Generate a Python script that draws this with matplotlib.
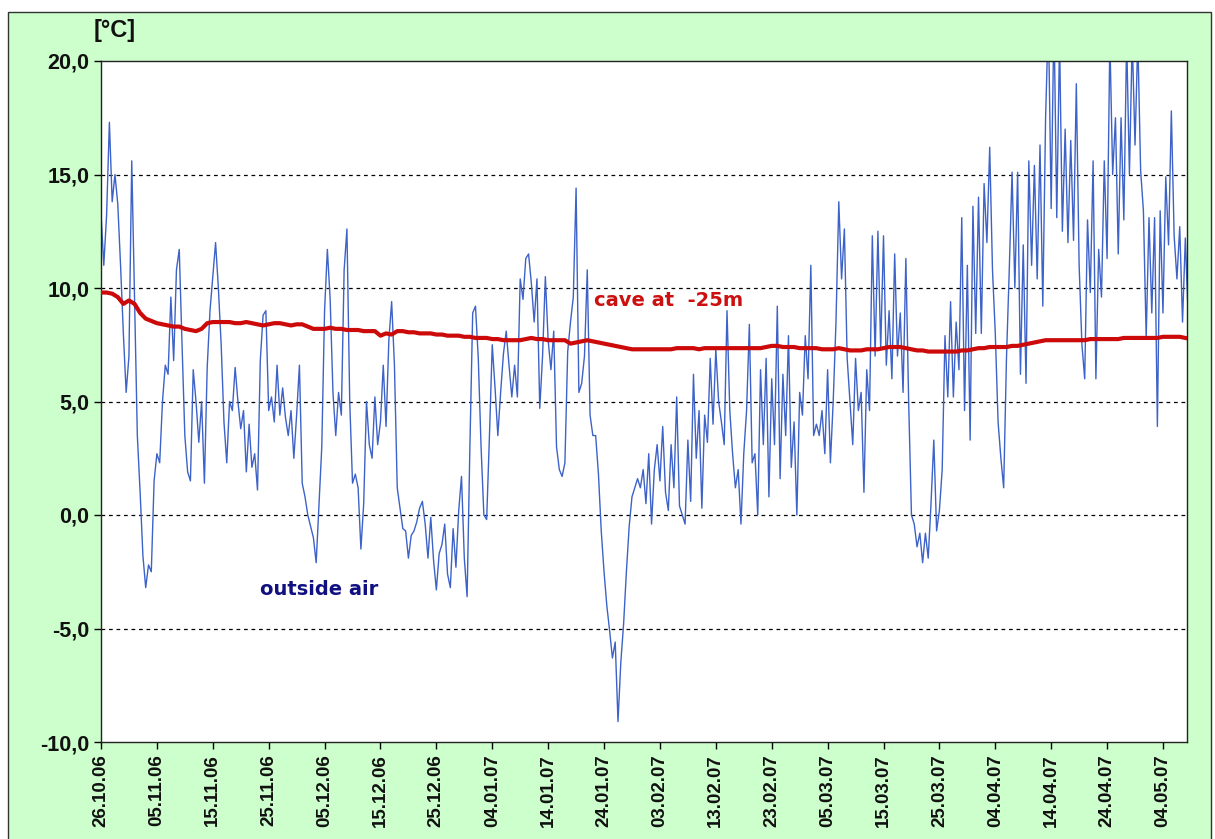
import numpy as np
import matplotlib
matplotlib.use('Agg')
import matplotlib.pyplot as plt
import matplotlib.dates as mdates
from matplotlib.patches import Rectangle
from datetime import datetime, timedelta

plt.rcParams['font.family'] = ['Liberation Sans', 'DejaVu Sans']

# start of the record, outside air sampled every 12 h, cave once a day
start = datetime(2006, 10, 26)

# outside air [degC], 12-hourly, one line = 5 days
outside_air = [
    13.3, 11.0, 13.2, 17.3, 13.8, 15.0, 13.7, 11.0, 8.0, 5.4,
    7.0, 15.6, 9.6, 3.5, 1.0, -1.8, -3.2, -2.2, -2.5, 1.5,
    2.7, 2.3, 5.0, 6.6, 6.2, 9.6, 6.8, 10.8, 11.7, 7.5,
    3.5, 1.9, 1.5, 6.4, 5.0, 3.2, 5.0, 1.4, 6.5, 9.0,
    10.5, 12.0, 10.0, 7.5, 4.1, 2.3, 5.0, 4.6, 6.5, 5.0,
    3.8, 4.6, 1.9, 4.0, 2.1, 2.7, 1.1, 6.8, 8.8, 9.0,
    4.6, 5.2, 4.1, 6.6, 4.4, 5.6, 4.3, 3.5, 4.6, 2.5,
    4.4, 6.6, 1.4, 0.8, 0.0, -0.5, -1.0, -2.1, 0.5, 3.0,
    9.0, 11.7, 9.5, 5.4, 3.5, 5.4, 4.4, 10.8, 12.6, 5.0,
    1.4, 1.8, 1.2, -1.5, 0.5, 5.0, 3.1, 2.5, 5.2, 3.1,
    4.1, 6.6, 3.9, 7.7, 9.4, 6.6, 1.2, 0.3, -0.6, -0.7,
    -1.9, -0.9, -0.7, -0.3, 0.3, 0.6, -0.4, -1.9, -0.1, -2.0,
    -3.3, -1.7, -1.3, -0.4, -2.6, -3.2, -0.6, -2.3, 0.2, 1.7,
    -1.9, -3.6, 3.0, 8.9, 9.2, 6.9, 3.0, 0.0, -0.2, 3.5,
    7.5, 5.6, 3.5, 5.4, 7.1, 8.1, 6.6, 5.2, 6.6, 5.2,
    10.4, 9.5, 11.3, 11.5, 10.2, 8.5, 10.4, 4.7, 7.0, 10.5,
    7.7, 6.4, 8.1, 3.0, 2.0, 1.7, 2.3, 7.2, 8.5, 9.6,
    14.4, 5.4, 5.8, 7.0, 10.8, 4.4, 3.5, 3.5, 1.8, -0.7,
    -2.5, -4.0, -5.1, -6.3, -5.6, -9.1, -6.5, -4.8, -2.5, -0.5,
    0.8, 1.2, 1.6, 1.2, 2.0, 0.5, 2.7, -0.4, 2.0, 3.1,
    1.5, 3.9, 1.0, 0.2, 3.1, 1.2, 5.2, 0.4, 0.0, -0.4,
    3.3, 0.6, 6.2, 2.5, 4.6, 0.3, 4.4, 3.2, 6.9, 4.0,
    7.3, 5.0, 4.1, 3.1, 9.0, 4.6, 2.7, 1.2, 2.0, -0.4,
    2.7, 4.6, 8.4, 2.3, 2.7, 0.0, 6.4, 3.1, 6.9, 0.8,
    6.0, 3.1, 9.2, 1.6, 6.2, 3.5, 7.9, 2.1, 4.1, 0.0,
    5.4, 4.4, 7.9, 6.0, 11.0, 3.5, 4.0, 3.5, 4.6, 2.7,
    6.4, 2.3, 5.0, 8.5, 13.8, 10.4, 12.6, 6.9, 5.0, 3.1,
    6.9, 4.6, 5.4, 1.0, 6.4, 4.6, 12.3, 7.0, 12.5, 7.3,
    12.3, 6.6, 9.0, 6.0, 11.5, 7.0, 8.9, 5.4, 11.3, 5.0,
    0.0, -0.4, -1.4, -0.8, -2.1, -0.8, -1.9, 0.5, 3.3, -0.7,
    0.2, 2.0, 7.9, 5.2, 9.4, 5.2, 8.5, 6.4, 13.1, 4.6,
    11.0, 3.3, 13.6, 8.0, 14.0, 8.0, 14.6, 12.0, 16.2, 10.8,
    8.0, 4.1, 2.5, 1.2, 6.9, 10.8, 15.1, 10.0, 15.1, 6.2,
    11.9, 5.8, 15.6, 11.0, 15.4, 10.4, 16.3, 9.2, 17.5, 22.0,
    13.5, 22.0, 13.1, 21.0, 12.5, 17.0, 12.0, 16.5, 12.1, 19.0,
    11.0, 7.5, 6.0, 13.0, 9.8, 15.6, 6.0, 11.7, 9.6, 15.6,
    11.3, 21.0, 15.0, 17.5, 11.5, 17.5, 13.0, 21.0, 15.0, 21.0,
    16.3, 21.0, 15.2, 13.4, 7.8, 13.1, 8.9, 13.1, 3.9, 13.4,
    8.9, 14.9, 11.9, 17.8, 12.3, 10.4, 12.7, 8.5, 12.2, 8.8,
]

# cave at -25 m [degC], daily, one line = 10 days
cave = [
    9.8, 9.8, 9.75, 9.6, 9.3, 9.45, 9.3, 8.9, 8.65, 8.55,
    8.45, 8.4, 8.35, 8.3, 8.3, 8.2, 8.15, 8.1, 8.2, 8.45,
    8.5, 8.5, 8.5, 8.5, 8.45, 8.45, 8.5, 8.45, 8.4, 8.35,
    8.4, 8.45, 8.45, 8.4, 8.35, 8.4, 8.4, 8.3, 8.2, 8.2,
    8.2, 8.25, 8.2, 8.2, 8.15, 8.15, 8.15, 8.1, 8.1, 8.1,
    7.9, 8.0, 7.95, 8.1, 8.1, 8.05, 8.05, 8.0, 8.0, 8.0,
    7.95, 7.95, 7.9, 7.9, 7.9, 7.85, 7.85, 7.8, 7.8, 7.8,
    7.75, 7.75, 7.7, 7.7, 7.7, 7.7, 7.75, 7.8, 7.75, 7.75,
    7.7, 7.7, 7.7, 7.7, 7.55, 7.6, 7.65, 7.7, 7.65, 7.6,
    7.55, 7.5, 7.45, 7.4, 7.35, 7.3, 7.3, 7.3, 7.3, 7.3,
    7.3, 7.3, 7.3, 7.35, 7.35, 7.35, 7.35, 7.3, 7.35, 7.35,
    7.35, 7.35, 7.35, 7.35, 7.35, 7.35, 7.35, 7.35, 7.35, 7.4,
    7.45, 7.45, 7.4, 7.4, 7.4, 7.35, 7.35, 7.35, 7.35, 7.3,
    7.3, 7.3, 7.35, 7.3, 7.25, 7.25, 7.25, 7.3, 7.3, 7.3,
    7.35, 7.4, 7.4, 7.4, 7.35, 7.3, 7.25, 7.25, 7.2, 7.2,
    7.2, 7.2, 7.2, 7.2, 7.25, 7.25, 7.3, 7.35, 7.35, 7.4,
    7.4, 7.4, 7.4, 7.45, 7.45, 7.5, 7.55, 7.6, 7.65, 7.7,
    7.7, 7.7, 7.7, 7.7, 7.7, 7.7, 7.7, 7.75, 7.75, 7.75,
    7.75, 7.75, 7.75, 7.8, 7.8, 7.8, 7.8, 7.8, 7.8, 7.8,
    7.85, 7.85, 7.85, 7.85, 7.8,
]

tick_labels = ['26.10.06', '05.11.06', '15.11.06', '25.11.06', '05.12.06',
               '15.12.06', '25.12.06', '04.01.07', '14.01.07', '24.01.07',
               '03.02.07', '13.02.07', '23.02.07', '05.03.07', '15.03.07',
               '25.03.07', '04.04.07', '14.04.07', '24.04.07', '04.05.07']
y_ticks = [-10, -5, 0, 5, 10, 15, 20]

air_t = [start + timedelta(hours=12 * i) for i in range(len(outside_air))]
cave_t = [start + timedelta(days=i) for i in range(len(cave))]
tick_t = [datetime.strptime(s, '%d.%m.%y') for s in tick_labels]

fig = plt.figure(figsize=(12.15, 8.39), dpi=100)
fig.patch.set_facecolor('white')
# green chart area with thin dark frame (bottom edge runs off the picture)
fig.patches.append(Rectangle((8 / 1215, -0.01), 1203 / 1215, 1 - 12 / 839 + 0.01,
                             transform=fig.transFigure, facecolor='#ccffcc',
                             edgecolor='#333333', linewidth=1, zorder=-10))

ax = fig.add_axes([101 / 1215, 1 - 742 / 839, 1086 / 1215, 681 / 839])
ax.set_facecolor('white')

for v in [-5, 0, 5, 10, 15]:
    ax.axhline(v, color='black', linewidth=0.9, linestyle=(0, (3, 3)), zorder=1)

ax.plot(air_t, outside_air, color='#3d62c8', linewidth=1.0, zorder=2)
ax.plot(cave_t, cave, color='#cc0a0a', linewidth=3.0, zorder=3)

ax.set_ylim(-10, 20)
ax.set_xlim(start, start + timedelta(days=194.3))
ax.set_yticks(y_ticks)
ax.set_yticklabels([('%.1f' % v).replace('.', ',') for v in y_ticks])
ax.set_xticks(tick_t)
ax.set_xticklabels(tick_labels, rotation=90)
ax.tick_params(axis='both', direction='out', length=5, width=1, colors='black')
ax.tick_params(axis='x', labelsize=13.5)
ax.tick_params(axis='y', labelsize=15.5)
for lab in ax.get_xticklabels() + ax.get_yticklabels():
    lab.set_fontweight('bold')
    lab.set_color('#111111')
for sp in ax.spines.values():
    sp.set_color('#222222')
    sp.set_linewidth(1)

ax.text(start + timedelta(days=88.2), 9.05, 'cave at  -25m', color='#cc1010',
        fontsize=14, fontweight='bold', va='bottom', ha='left',
        family='DejaVu Sans')
ax.text(start + timedelta(days=28.4), -3.3, 'outside air', color='#101080',
        fontsize=14, fontweight='bold', va='center', ha='left',
        family='DejaVu Sans')
fig.text(115 / 1215, 1 - 30 / 839, '[°C]', fontsize=17, fontweight='bold',
         ha='center', va='center', color='#111111')

fig.savefig('out.png', dpi=100)
